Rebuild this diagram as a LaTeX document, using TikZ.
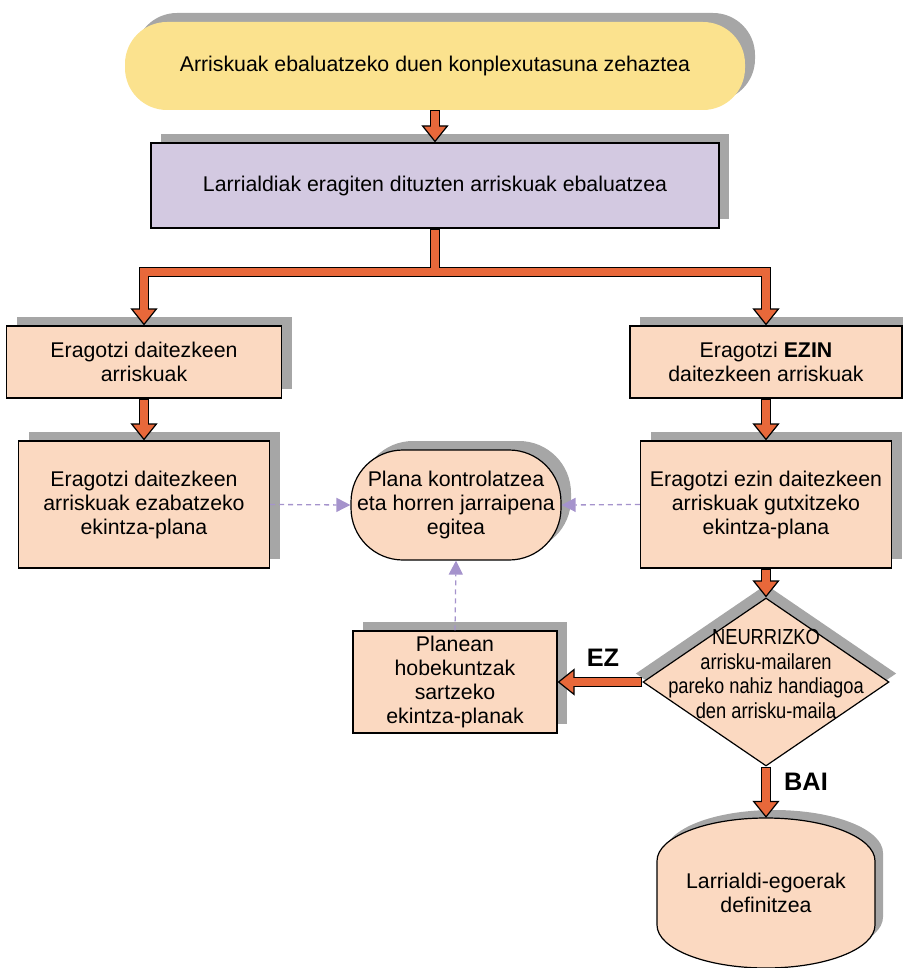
\documentclass[tikz,border=0pt]{standalone}
\usepackage{fontspec}
\setmainfont{Liberation Sans}
\newfontfamily\narrowfont[FakeStretch=0.84]{Liberation Sans}
\usetikzlibrary{arrows.meta,shapes.geometric,shadows,backgrounds}

\definecolor{startyellow}{HTML}{FBE28E}
\definecolor{mainpurple}{HTML}{D3C9E1}
\definecolor{stepfill}{HTML}{FBD9C1}
\definecolor{shadowgray}{HTML}{A6A6A6}
\definecolor{arroworange}{HTML}{E8683A}
\definecolor{dashlilac}{HTML}{A593CC}

\newcommand{\emergpath}{(-109,-32) arc[start angle=180,end angle=90,x radius=109pt,y radius=43pt]
  arc[start angle=90,end angle=0,x radius=109pt,y radius=43pt] -- (109,32)
  arc[start angle=0,end angle=-90,x radius=109pt,y radius=43pt]
  arc[start angle=-90,end angle=-180,x radius=109pt,y radius=43pt] -- cycle}
\newcommand{\fatarrow}[1]{\draw[fatback] #1; \draw[fatfront] #1;}

\begin{document}
\begin{tikzpicture}[x=1pt,y=-1pt,
  every node/.style={font=\fontsize{21.3}{24}\selectfont, align=center},
  shadowed/.style={drop shadow={shadow xshift=10pt,shadow yshift=9pt,fill=shadowgray,opacity=1}},
  startbox/.style={shadowed, fill=startyellow, rounded corners=42pt, minimum width=620pt, minimum height=88pt},
  mainbox/.style={shadowed, fill=mainpurple, draw=black, line width=1.2pt, minimum width=568pt, minimum height=85pt},
  stepbox/.style={shadowed, fill=stepfill, draw=black, line width=1.2pt, inner sep=2pt},
  controlbox/.style={stepbox, rounded corners=52pt, minimum width=210pt, minimum height=110pt},
  decision/.style={diamond, fill=stepfill, draw=black, line width=1.2pt, inner sep=0pt,
    minimum width=246pt, minimum height=168pt,
    drop shadow={shadow scale=1.06,shadow xshift=0pt,shadow yshift=8pt,fill=shadowgray,opacity=1},
    font=\narrowfont\fontsize{21.8}{24.5}\selectfont},
  answer/.style={font=\bfseries\fontsize{25.3}{28}\selectfont},
  fatback/.style={draw=black, line width=10pt, -{Triangle[width=27pt,length=17pt,fill=arroworange,line width=1.2pt]}},
  fatfront/.style={draw=arroworange, line width=7.6pt, shorten >=15pt, shorten <=1.2pt},
  follow/.style={draw=dashlilac, line width=1.3pt, dash pattern=on 5pt off 4pt, -{Triangle[width=14pt,length=14pt]}}]
  \useasboundingbox (0,0) rectangle (902,968);

  \node[startbox] (start) at (435,66) {Arriskuak ebaluatzeko duen konplexutasuna zehaztea};
  \node[mainbox] (assess) at (435,185.5) {Larrialdiak eragiten dituzten arriskuak ebaluatzea};

  \node[stepbox, minimum width=275pt, minimum height=72pt] (prev) at (144,362) {Eragotzi daitezkeen\\arriskuak};
  \node[stepbox, minimum width=272pt, minimum height=72pt] (noprev) at (766,362) {Eragotzi \textbf{EZIN}\\daitezkeen arriskuak};

  \node[stepbox, minimum width=251pt, minimum height=127pt] (removeplan) at (144,504.5) {Eragotzi daitezkeen\\arriskuak ezabatzeko\\ekintza-plana};
  \node[stepbox, minimum width=251pt, minimum height=127pt] (reduceplan) at (766,504.5) {Eragotzi ezin daitezkeen\\arriskuak gutxitzeko\\ekintza-plana};
  \node[controlbox] (control) at (456,505) {Plana kontrolatzea\\eta horren jarraipena\\egitea};

  \node[decision] (level) at (766,682) {\makebox[0pt]{\smash{\begin{tabular}{@{}c@{}}NEURRIZKO\\arrisku-mailaren\\pareko nahiz handiagoa\\den arrisku-maila\end{tabular}}}};
  \node[stepbox, minimum width=204pt, minimum height=102pt] (improve) at (455,682) {Planean\\hobekuntzak\\sartzeko\\ekintza-planak};
  \node[minimum width=218pt, minimum height=150pt] (emerg) at (766,893) {Larrialdi-egoerak\\definitzea};

  \begin{scope}[on background layer, shift={(emerg.center)}]
    \fill[shadowgray, xshift=8pt, yshift=8pt] \emergpath;
    \filldraw[fill=stepfill, draw=black, line width=1.2pt] \emergpath;
  \end{scope}

  \node[answer] (no) at (603,658) {EZ};
  \node[answer] (yes) at (806,782) {BAI};

  % thick arrows
  \fatarrow{(start.south) -- (assess.north)}
  \coordinate (split) at (435,272);
  \draw[fatback] (assess.south) -- (split) -| (prev.north);
  \draw[fatback] (split) -| (noprev.north);
  \draw[fatfront] (assess.south) -- (split) -| (prev.north);
  \draw[fatfront, shorten <=0pt] (split) -| (noprev.north);
  \fatarrow{(prev.south) -- (removeplan.north)}
  \fatarrow{(noprev.south) -- (reduceplan.north)}
  \fatarrow{(reduceplan.south) -- (level.north)}
  \fatarrow{(level.west) -- (improve.east)}
  \fatarrow{(level.south) -- (emerg.north)}

  % follow-up links
  \draw[follow] (removeplan.east) -- (control.west);
  \draw[follow] (reduceplan.west) -- (control.east);
  \draw[follow] (improve.north) -- (control.south);
\end{tikzpicture}
\end{document}
